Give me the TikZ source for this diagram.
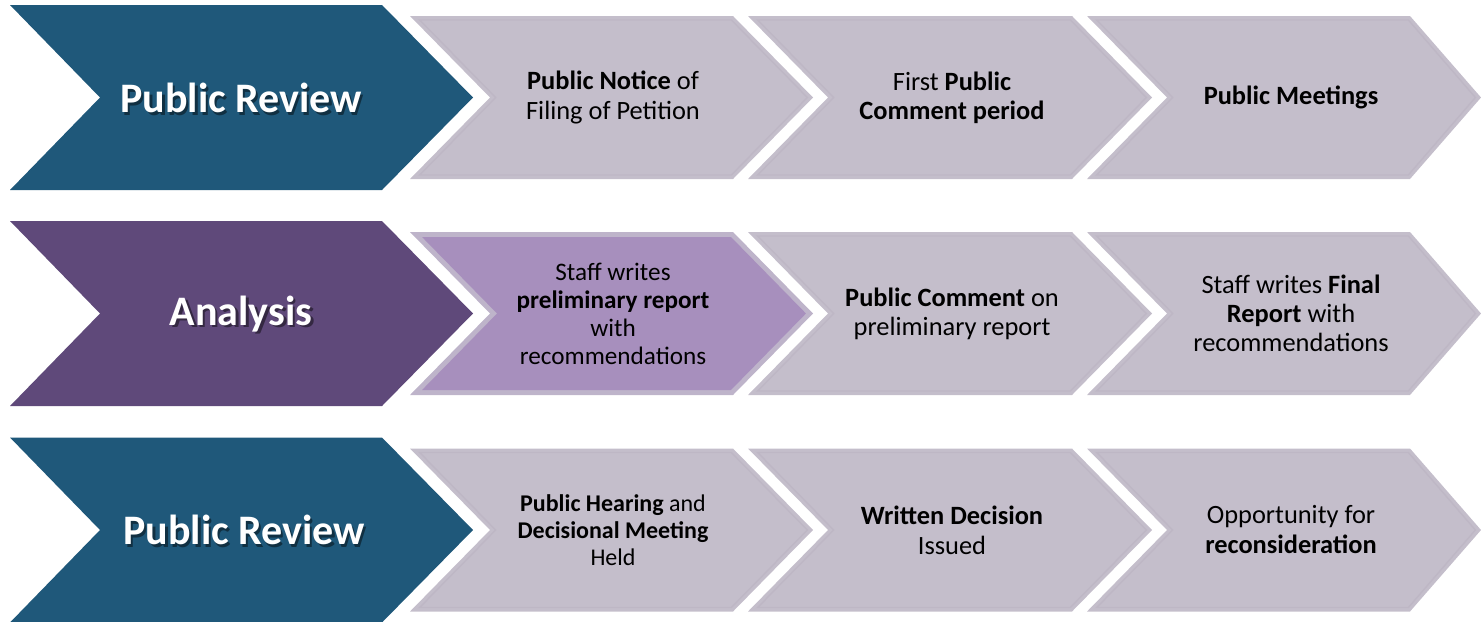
\documentclass[tikz,border=0pt]{standalone}
\usepackage{fontspec}
\setmainfont{Carlito}
\definecolor{cblue}{RGB}{31,88,122}
\definecolor{cpurple}{RGB}{95,73,122}
\definecolor{cgrey}{RGB}{196,190,203}
\definecolor{cgreyline}{RGB}{190,183,197}
\definecolor{chigh}{RGB}{167,143,189}
\definecolor{chighborder}{RGB}{190,180,202}
% chevron: style, x-left, x-notch, x-corner, x-tip, y-centre, half-height, inset
\newcommand\chevin[8]{\path[#1] ({#2+2.41*#8},{#6-#7+#8}) -- ({#4-0.41*#8},{#6-#7+#8}) -- ({#5-1.41*#8},#6) -- ({#4-0.41*#8},{#6+#7-#8}) -- ({#2+2.41*#8},{#6+#7-#8}) -- ({#3+1.41*#8},#6) -- cycle;}
\begin{document}
\begin{tikzpicture}[x=0.5pt,y=-0.5pt,
  bigblue/.style={fill=cblue},
  bigpurple/.style={fill=cpurple},
  stepfill/.style={fill=cgrey},
  stepline/.style={draw=cgreyline,line width=0.7pt},
  highborder/.style={fill=chighborder},
  highfill/.style={fill=chigh},
  bigtext/.style={text=white,font=\fontsize{21}{25}\selectfont\bfseries},
  bigshadow/.style={text=black,opacity=0.45,font=\fontsize{21}{25}\selectfont\bfseries},
  smalltext/.style={align=center,text=black,font=\fontsize{13.2}{14.6}\selectfont},
  hightext/.style={align=center,text=black,font=\fontsize{12.6}{14}\selectfont},
  hearingtext/.style={align=center,text=black,font=\fontsize{12}{13.5}\selectfont},
  issuedtext/.style={align=center,text=black,font=\fontsize{13.2}{15}\selectfont},
]
\useasboundingbox (0,0) rectangle (1481,621);
% ---- row 1 ----
\chevin{bigblue}{10}{100}{382}{473}{97.5}{92.5}{0}
\foreach \xl/\xn/\xc/\xt in {410/490/733/813,748/828/1072/1152,1087/1167/1410/1481}{
  \chevin{stepfill}{\xl}{\xn}{\xc}{\xt}{97.5}{81.5}{0}
  \chevin{stepline}{\xl}{\xn}{\xc}{\xt}{97.5}{81.5}{4}
}
% ---- row 2 ----
\chevin{bigpurple}{10}{100}{382}{473}{313.5}{92.5}{0}
\chevin{highborder}{410}{490}{733}{813}{313.5}{81.5}{0}
\chevin{highfill}{410}{490}{733}{813}{313.5}{81.5}{5}
\foreach \xl/\xn/\xc/\xt in {748/828/1072/1152,1087/1167/1410/1481}{
  \chevin{stepfill}{\xl}{\xn}{\xc}{\xt}{313.5}{81.5}{0}
  \chevin{stepline}{\xl}{\xn}{\xc}{\xt}{313.5}{81.5}{4}
}
% ---- row 3 ----
\chevin{bigblue}{10}{100}{382}{473}{530}{92.5}{0}
\foreach \xl/\xn/\xc/\xt in {410/490/733/813,748/828/1072/1152,1087/1167/1410/1481}{
  \chevin{stepfill}{\xl}{\xn}{\xc}{\xt}{530}{81.5}{0}
  \chevin{stepline}{\xl}{\xn}{\xc}{\xt}{530}{81.5}{4}
}
% ---- big labels ----
\node[bigshadow] (r1s) at (243.5,100.5) {Public Review};
\node[bigtext] (r1) at (241,98) {Public Review};
\node[bigshadow] (r2s) at (243.5,316.5) {Analysis};
\node[bigtext] (r2) at (241,314) {Analysis};
\node[bigshadow] (r3s) at (246.5,532.5) {Public Review};
\node[bigtext] (r3) at (244,530) {Public Review};
% ---- step labels ----
\node[smalltext] (a1) at (613,97.5) {\textbf{Public Notice} of\\Filing of Petition};
\node[smalltext] (a2) at (952,97.5) {First \textbf{Public}\\\textbf{Comment period}};
\node[smalltext] (a3) at (1291,97.5) {\textbf{Public Meetings}};
\node[hightext] (b1) at (613,313.5) {Staff writes\\\textbf{preliminary report}\\with\\recommendations};
\node[smalltext] (b2) at (952,313.5) {\textbf{Public Comment} on\\preliminary report};
\node[smalltext] (b3) at (1291,313.5) {Staff writes \textbf{Final}\\\textbf{Report} with\\recommendations};
\node[hearingtext] (c1) at (613,530) {\textbf{Public Hearing} and\\\textbf{Decisional Meeting}\\Held};
\node[issuedtext] (c2) at (952,530) {\textbf{Written Decision}\\Issued};
\node[issuedtext] (c3) at (1291,530) {Opportunity for\\\textbf{reconsideration}};
\end{tikzpicture}
\end{document}
